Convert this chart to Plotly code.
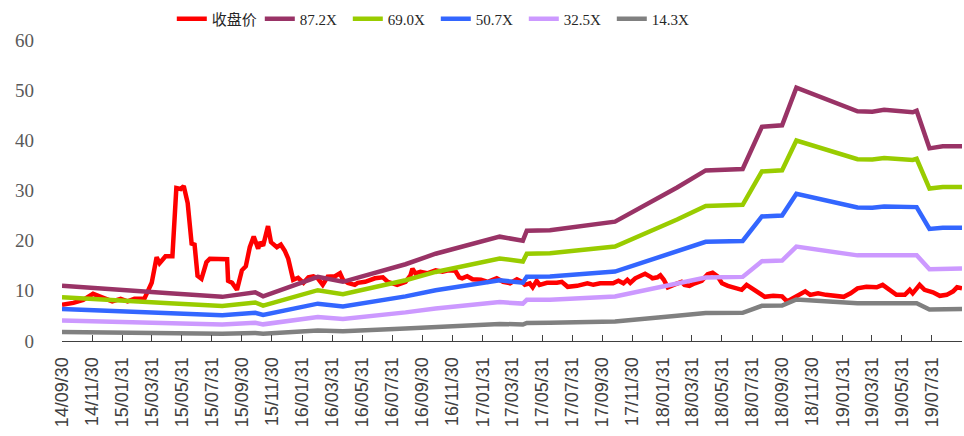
import plotly.graph_objects as go

# Daily closing price (sampled), CNY
price_dates = [
    "2014-09-30", "2014-10-23", "2014-11-12", "2014-12-02", "2014-12-23", "2015-01-10",
    "2015-01-27", "2015-02-10", "2015-02-24", "2015-03-16", "2015-03-31", "2015-04-10",
    "2015-04-16", "2015-04-28", "2015-05-12", "2015-05-20", "2015-05-29", "2015-06-04",
    "2015-06-12", "2015-06-20", "2015-06-26", "2015-07-02", "2015-07-10", "2015-07-20",
    "2015-07-27", "2015-08-31", "2015-09-02", "2015-09-10", "2015-09-20", "2015-09-30",
    "2015-10-08", "2015-10-16", "2015-10-24", "2015-11-02", "2015-11-06", "2015-11-12",
    "2015-11-22", "2015-11-28", "2015-12-10", "2015-12-18", "2015-12-26", "2016-01-02",
    "2016-01-12", "2016-01-22", "2016-02-02", "2016-02-12", "2016-02-22", "2016-03-02",
    "2016-03-12", "2016-03-22", "2016-04-06", "2016-04-16", "2016-04-22", "2016-05-02",
    "2016-05-16", "2016-05-22", "2016-06-06", "2016-06-26", "2016-07-12", "2016-07-22",
    "2016-08-10", "2016-08-27", "2016-09-06", "2016-09-10", "2016-09-16", "2016-09-26",
    "2016-10-10", "2016-10-27", "2016-11-10", "2016-11-22", "2016-12-06", "2016-12-14",
    "2016-12-20", "2016-12-30", "2017-01-10", "2017-01-27", "2017-02-10", "2017-02-22",
    "2017-02-28", "2017-03-13", "2017-03-27", "2017-04-10", "2017-04-20", "2017-04-26",
    "2017-05-06", "2017-05-12", "2017-05-20", "2017-05-26", "2017-06-10", "2017-06-30",
    "2017-07-10", "2017-07-22", "2017-08-10", "2017-08-31", "2017-09-12", "2017-09-26",
    "2017-10-10", "2017-10-22", "2017-11-02", "2017-11-12", "2017-11-20", "2017-11-26",
    "2017-12-06", "2017-12-16", "2017-12-26", "2018-01-06", "2018-01-10", "2018-01-20",
    "2018-01-26", "2018-02-02", "2018-02-10", "2018-02-22", "2018-03-10", "2018-03-16",
    "2018-03-26", "2018-04-06", "2018-04-20", "2018-05-02", "2018-05-12", "2018-05-22",
    "2018-05-31", "2018-06-12", "2018-06-30", "2018-07-10", "2018-07-20", "2018-07-26",
    "2018-08-06", "2018-08-16", "2018-08-26", "2018-09-12", "2018-09-30", "2018-10-10",
    "2018-10-20", "2018-10-31", "2018-11-06", "2018-11-16", "2018-11-26", "2018-12-12",
    "2018-12-28", "2019-01-20", "2019-02-02", "2019-02-16", "2019-03-02", "2019-03-20",
    "2019-04-10", "2019-04-22", "2019-05-06", "2019-05-20", "2019-06-06", "2019-06-16",
    "2019-06-22", "2019-07-06", "2019-07-16", "2019-08-02", "2019-08-16", "2019-08-30",
    "2019-09-12", "2019-09-20", "2019-09-30",
]
price_values = [
    7.2, 7.6, 8.2, 9.4, 8.6, 7.9,
    8.4, 7.9, 8.4, 8.4, 11.6, 16.7,
    15.5, 16.9, 16.9, 30.5, 30.3, 30.9,
    27.5, 19.4, 19.2, 13.0, 12.4, 15.7,
    16.4, 16.3, 12.0, 11.6, 10.2, 14.1,
    14.9, 18.7, 20.8, 18.4, 19.7, 19.0,
    22.9, 19.7, 18.7, 19.2, 18.0, 16.4,
    12.2, 12.6, 11.6, 12.7, 12.9, 12.5,
    11.2, 12.8, 12.9, 13.5, 12.2, 11.6,
    11.2, 11.6, 11.8, 12.5, 12.7, 11.8,
    11.2, 11.8, 13.1, 14.4, 13.5, 13.8,
    13.5, 14.1, 13.8, 14.1, 14.0, 12.7,
    12.5, 12.9, 12.3, 12.2, 11.8, 12.3,
    12.5, 11.8, 11.5, 12.3, 11.8, 11.2,
    11.5, 10.7, 12.0, 11.2, 11.6, 11.6,
    11.8, 10.8, 11.0, 11.5, 11.2, 11.5,
    11.6, 11.5, 12.0, 11.5, 12.2, 11.6,
    12.5, 13.0, 13.4, 12.8, 12.5, 12.7,
    13.1, 12.2, 10.7, 11.2, 11.8, 11.2,
    11.0, 11.5, 12.0, 13.3, 13.6, 12.9,
    11.5, 11.0, 10.5, 10.2, 11.2, 10.8,
    9.9, 9.5, 8.8, 9.0, 8.9, 7.9,
    8.4, 9.2, 9.5, 9.9, 9.2, 9.5,
    9.2, 8.9, 8.8, 9.5, 10.5, 10.8,
    10.7, 11.2, 10.2, 9.2, 9.2, 10.2,
    9.5, 11.2, 10.2, 9.7, 9.0, 9.2,
    9.9, 10.7, 10.5,
]

# Trailing EPS used for the PE bands (CNY per share)
eps_dates = [
    "2014-09-30", "2015-03-26", "2015-05-06", "2015-08-21", "2015-10-27", "2015-11-12",
    "2016-03-02", "2016-04-22", "2016-08-27", "2016-10-27", "2017-03-06", "2017-04-22",
    "2017-04-30", "2017-06-16", "2017-10-26", "2018-03-01", "2018-04-28", "2018-07-12",
    "2018-08-20", "2018-09-30", "2018-10-29", "2019-03-02", "2019-04-01", "2019-04-25",
    "2019-06-22", "2019-06-30", "2019-07-26", "2019-08-22", "2019-09-30",
]
eps_values = [
    0.1261, 0.1101, 0.1089, 0.1009, 0.1112, 0.1021,
    0.1468, 0.1353, 0.1755, 0.1995, 0.2385, 0.2294,
    0.2523, 0.2534, 0.2729, 0.3509, 0.3899, 0.3933,
    0.4897, 0.4931, 0.5791, 0.5252, 0.5241, 0.5287,
    0.5229, 0.5264, 0.4404, 0.4450, 0.4450,
]

band_multiples = [87.2, 69.0, 50.7, 32.5, 14.3]
band_colors = ["#993366", "#99CC00", "#3366FF", "#CC99FF", "#808080"]
price_name = "收盘价"
price_color = "#FF0000"

tick_labels = [
    "14/09/30", "14/11/30", "15/01/31", "15/03/31", "15/05/31", "15/07/31",
    "15/09/30", "15/11/30", "16/01/31", "16/03/31", "16/05/31", "16/07/31",
    "16/09/30", "16/11/30", "17/01/31", "17/03/31", "17/05/31", "17/07/31",
    "17/09/30", "17/11/30", "18/01/31", "18/03/31", "18/05/31", "18/07/31",
    "18/09/30", "18/11/30", "19/01/31", "19/03/31", "19/05/31", "19/07/31",
]
tick_dates = ["20" + t.replace("/", "-") for t in tick_labels] + ["2019-09-30"]
tick_text = tick_labels + [""]

fig = go.Figure()

fig.add_trace(go.Scatter(
    x=price_dates, y=price_values, mode="lines", name=price_name,
    line=dict(color=price_color, width=4.5),
))

for mult, color in zip(band_multiples, band_colors):
    fig.add_trace(go.Scatter(
        x=eps_dates, y=[e * mult for e in eps_values], mode="lines",
        name=f"{mult:.1f}X",
        line=dict(color=color, width=4.5),
    ))

fig.update_layout(
    width=964, height=436,
    margin=dict(l=62, r=2, t=37, b=95),
    paper_bgcolor="white", plot_bgcolor="white",
    showlegend=True,
    legend=dict(
        orientation="h", x=0.122, y=1.07, xanchor="left", yanchor="middle",
        font=dict(family="Liberation Serif, Noto Sans CJK SC", size=15, color="#262626"),
        entrywidth=43, entrywidthmode="pixels",
        bgcolor="rgba(0,0,0,0)", traceorder="normal",
    ),
    xaxis=dict(
        type="date", range=["2014-09-30", "2019-09-30"],
        tickmode="array", tickvals=tick_dates, ticktext=tick_text,
        tickangle=-90, ticks="inside", ticklen=6, tickcolor="#404040",
        showline=True, linecolor="#404040", linewidth=1,
        showgrid=False, zeroline=False,
        tickfont=dict(family="Liberation Sans, Arial", size=18, color="#404040"),
        ticklabelstandoff=8,
    ),
    yaxis=dict(
        range=[0, 60], tickvals=[0, 10, 20, 30, 40, 50, 60],
        showgrid=False, zeroline=False, showline=False, ticks="",
        tickfont=dict(family="Liberation Serif, Times New Roman", size=19, color="#595959"),
        ticklabelstandoff=27,
    ),
)

fig.write_html("out.html")
